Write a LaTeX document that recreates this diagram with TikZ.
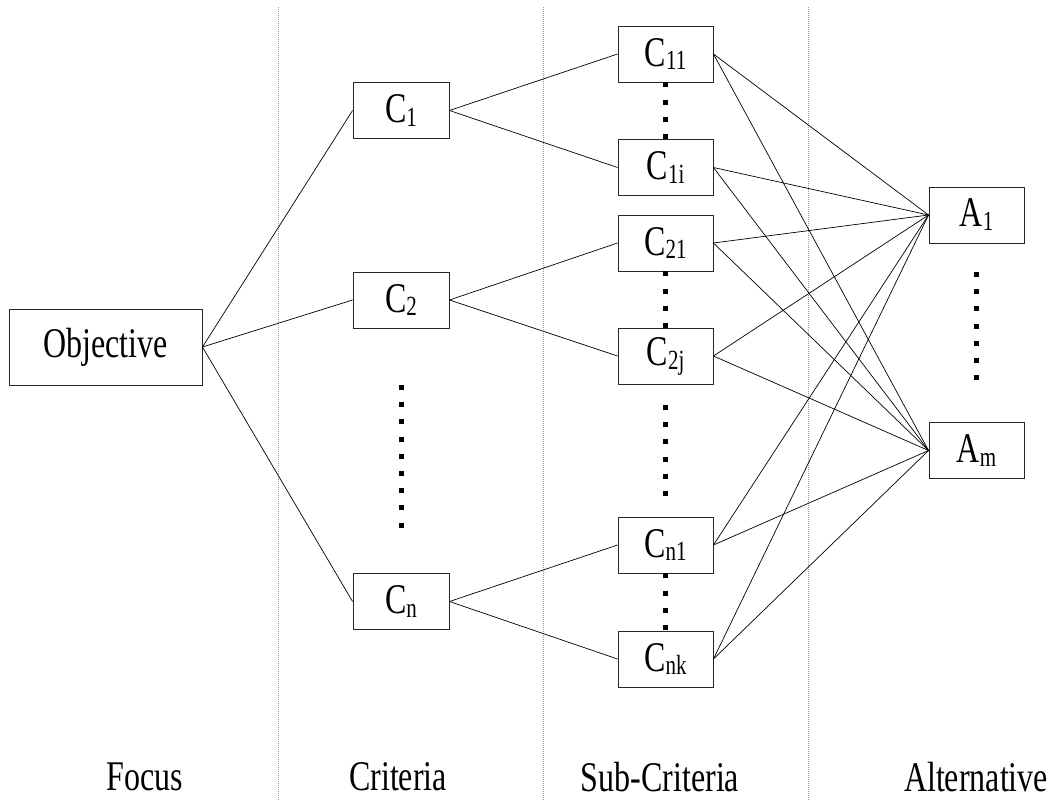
\documentclass[tikz,border=0pt]{standalone}
\usepackage{fontspec}
\setmainfont{Liberation Serif}
\usepackage{graphicx}
\newcommand\tall[1]{\scalebox{1}[1.32]{#1}}
\newcommand\sbs[1]{\raisebox{-3pt}{\fontsize{21}{24}\selectfont #1}}
\begin{document}
\begin{tikzpicture}[x=1pt,y=-1pt,
  box/.style={draw=black!85, line width=0.9pt, minimum width=96pt,
    minimum height=56pt, inner sep=0pt, font=\fontsize{32}{36}\selectfont},
  link/.style={draw=black, line width=0.7pt},
  vdots/.style={draw=black, line width=5pt, dash pattern=on 5pt off 12.2pt},
  sep/.style={draw=black!40, line width=0.8pt, dash pattern=on 1pt off 1pt},
  colname/.style={font=\fontsize{32}{36}\selectfont, inner sep=0pt}]

\useasboundingbox (0,0) rectangle (1052,800);

% column separators
\coordinate (s1t) at (278,7);   \coordinate (s1b) at (278,800);
\coordinate (s2t) at (543,7);   \coordinate (s2b) at (543,800);
\coordinate (s3t) at (808,7);   \coordinate (s3b) at (808,800);
\draw[sep] (s1t) -- (s1b);
\draw[sep] (s2t) -- (s2b);
\draw[sep] (s3t) -- (s3b);

% focus
\node[box, minimum width=193pt, minimum height=76pt] (obj) at (105.5,347) {\tall{Objective}};

% criteria
\node[box] (c1) at (401,110.5) {\tall{C\sbs{1}}};
\node[box] (c2) at (401,300) {\tall{C\sbs{2}}};
\node[box] (cn) at (401,601.5) {\tall{C\sbs{n}}};

% sub-criteria
\node[box, minimum width=95pt] (c11) at (665.5,54) {\tall{C\sbs{11}}};
\node[box, minimum width=95pt] (c1i) at (665.5,167.5) {\tall{C\sbs{1i}}};
\node[box, minimum width=95pt] (c21) at (665.5,243) {\tall{C\sbs{21}}};
\node[box, minimum width=95pt] (c2j) at (665.5,356) {\tall{C\sbs{2j}}};
\node[box, minimum width=95pt] (cn1) at (665.5,545) {\tall{C\sbs{n1}}};
\node[box, minimum width=95pt] (cnk) at (665.5,659) {\tall{C\sbs{nk}}};

% alternatives
\node[box, minimum width=95pt] (a1) at (976.5,215) {\tall{A\sbs{1}}};
\node[box, minimum width=95pt] (am) at (976.5,450.5) {\tall{A\sbs{m}}};

% focus to criteria
\draw[link] (obj.east) -- (c1.west);
\draw[link] (obj.east) -- (c2.west);
\draw[link] (obj.east) -- (cn.west);

% criteria to sub-criteria
\draw[link] (c1.east) -- (c11.west);
\draw[link] (c1.east) -- (c1i.west);
\draw[link] (c2.east) -- (c21.west);
\draw[link] (c2.east) -- (c2j.west);
\draw[link] (cn.east) -- (cn1.west);
\draw[link] (cn.east) -- (cnk.west);

% sub-criteria to alternatives
\foreach \s in {c11,c1i,c21,c2j,cn1,cnk}{
  \draw[link] (\s.east) -- (a1.west);
  \draw[link] (\s.east) -- (am.west);
}

% ellipses between boxes
\draw[vdots] (c11.south) -- (c1i.north);
\draw[vdots] (c21.south) -- (c2j.north);
\draw[vdots] (cn1.south) -- (cnk.north);

\coordinate (crt) at (401,385);   \coordinate (crb) at (401,528);
\coordinate (sct) at (665.5,405); \coordinate (scb) at (665.5,496);
\coordinate (alt) at (976.5,272); \coordinate (alb) at (976.5,380);
\draw[vdots] (crt) -- (crb);
\draw[vdots] (sct) -- (scb);
\draw[vdots] (alt) -- (alb);

% column names
\node[colname] (lfocus) at (145,777) {\tall{Focus}};
\node[colname] (lcrit) at (398,777) {\tall{Criteria}};
\node[colname] (lsub) at (660,777) {\tall{Sub-Criteria}};
\node[colname] (lalt) at (976,777) {\tall{Alternative}};
\end{tikzpicture}
\end{document}
